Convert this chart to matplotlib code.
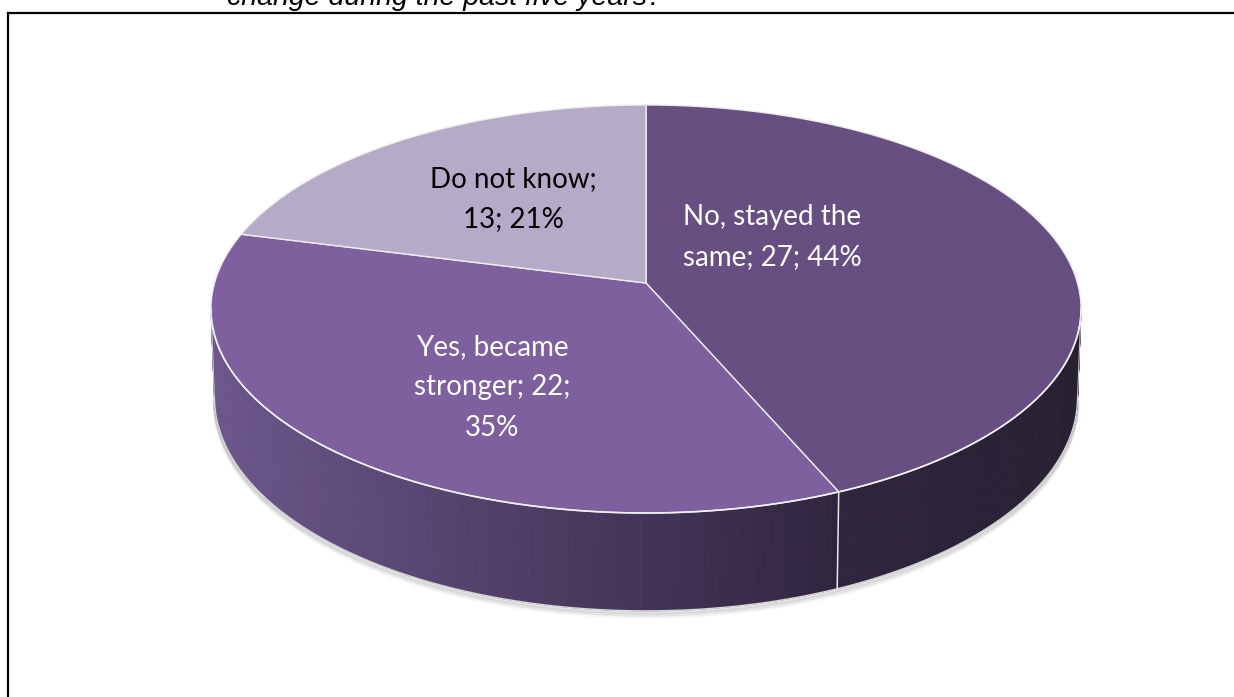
import textwrap
import numpy as np
import matplotlib
matplotlib.use("Agg")
import matplotlib.pyplot as plt
from matplotlib.colors import to_rgb

# ---------------- data ----------------
categories = ["No, stayed the same", "Yes, became stronger", "Do not know"]
counts = [27, 22, 13]
title = "change during the past five years?"

# ---------------- style ----------------
top_colors = ["#684F81", "#7D609D", "#B5AAC7"]
wall_left = ["#30253E", "#6C568B", "#9A8EB0"]
wall_right = ["#281F32", "#30253F", "#8A7EA0"]
label_colors = ["white", "white", "black"]
label_pos = [(772, 225), (492, 355), (513, 187)]   # centre x, first baseline y (px)
line_step = 40.5

W, H = 1234, 697
cx, cy = 646.0, 283.0
A, B, k, depth = 431.5, 200.7, 0.1274, 87.0

fig = plt.figure(figsize=(W / 100, H / 100), dpi=100)
ax = fig.add_axes([0, 0, 1, 1])
ax.set_xlim(0, W)
ax.set_ylim(H, 0)
ax.axis("off")


def proj(t, level=0.0):
    d = 1 + k * np.cos(t)
    s = 1 - 0.008 * level
    x = cx + A * s * np.sin(t) / d
    y = cy - B * s * np.cos(t) / d + level * depth / d
    return x, y


total = sum(counts)
fracs = np.array(counts) / total
bounds = np.concatenate([[0], np.cumsum(fracs)]) * 2 * np.pi
t_sil1 = np.arccos(-k)
t_sil2 = 2 * np.pi - t_sil1

# soft shadow under the bottom rim
ts = np.linspace(t_sil1, t_sil2, 300)
for i, a in enumerate([0.10, 0.07, 0.04]):
    x, y = proj(ts, 1.0)
    ax.plot(x, y + 2 + 2 * i, color="black", alpha=a, lw=2.5, solid_capstyle="round", zorder=1)

# side walls with horizontal gradient
for i in range(len(counts)):
    t0, t1 = max(bounds[i], t_sil1), min(bounds[i + 1], t_sil2)
    if t1 <= t0:
        continue
    n = 120
    tt = np.linspace(t0, t1, n + 1)
    xs_all = proj(tt)[0]
    xmin, xmax = xs_all.min(), xs_all.max()
    cl, cr = np.array(to_rgb(wall_left[i])), np.array(to_rgb(wall_right[i]))
    for j in range(n):
        ta, tb = tt[j], tt[j + 1]
        xa, ya = proj(ta)
        xb, yb = proj(tb)
        xc, yc = proj(tb, 1.0)
        xd, yd = proj(ta, 1.0)
        f = ((xa + xb) / 2 - xmin) / max(xmax - xmin, 1)
        col = cl + (cr - cl) * f
        ax.fill([xa, xb, xc, xd], [ya, yb, yc, yd], color=col, lw=0.6, ec=col, zorder=2)

# rim lines on the wall
x, y = proj(ts, 1.0)
ax.plot(x, y, color="#D8D8D8", lw=1.0, zorder=3)
for b in bounds:
    if t_sil1 < b < t_sil2:
        xa, ya = proj(b)
        xb, yb = proj(b, 1.0)
        ax.plot([xa, xb], [ya, yb], color="#E8E8E8", lw=1.1, zorder=3)
for t in (t_sil1, t_sil2):
    xa, ya = proj(t)
    xb, yb = proj(t, 1.0)
    ax.plot([xa, xb], [ya, yb], color="#C8C8C8", lw=0.8, zorder=3)

# top face
for i in range(len(counts)):
    tt = np.linspace(bounds[i], bounds[i + 1], 200)
    x, y = proj(tt)
    px = np.concatenate([[cx], x, [cx]])
    py = np.concatenate([[cy], y, [cy]])
    ax.fill(px, py, facecolor=top_colors[i], edgecolor="#EEEEEE", lw=1.0, zorder=4)

x, y = proj(ts)
ax.plot(x, y, color="#F0F0F0", lw=1.2, zorder=5)

# labels
for i, cat in enumerate(categories):
    pct = round(fracs[i] * 100)
    lines = textwrap.wrap(f"{cat}; {counts[i]}; {pct}%", width=14)
    lx, ly = label_pos[i]
    for j, line in enumerate(lines):
        ax.text(lx, ly + j * line_step, line, ha="center", va="baseline",
                fontsize=20, family="Lato", color=label_colors[i], zorder=6)

# title (cut at top) and frame
ax.text(445, 5, title, ha="center", va="baseline", fontsize=20.5,
        family="Liberation Sans", style="italic", color="black")
ax.plot([8, 8], [H + 5, 13], color="black", lw=1.6, solid_capstyle="projecting")
ax.plot([8, W + 5], [13, 13], color="black", lw=1.6, solid_capstyle="projecting")

fig.savefig("out.png", dpi=100)
